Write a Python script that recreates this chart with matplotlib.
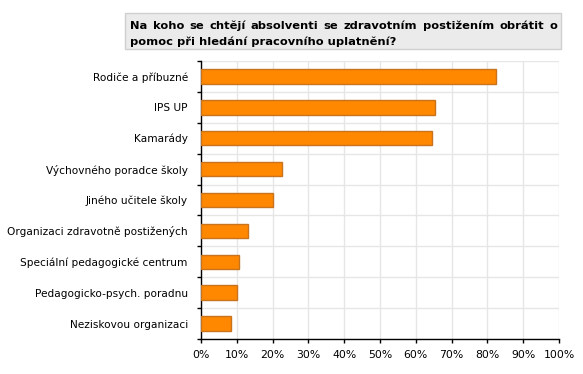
import matplotlib
matplotlib.use("Agg")
import matplotlib.pyplot as plt
from matplotlib.ticker import FixedLocator, FuncFormatter
from matplotlib.patches import Rectangle

categories = [
    "Rodiče a příbuzné",
    "IPS UP",
    "Kamarády",
    "Výchovného poradce školy",
    "Jiného učitele školy",
    "Organizaci zdravotně postižených",
    "Speciální pedagogické centrum",
    "Pedagogicko-psych. poradnu",
    "Neziskovou organizaci",
]
values = [82.4, 65.5, 64.6, 22.7, 20.2, 13.2, 10.7, 10.1, 8.5]
xticks = [0, 10, 20, 30, 40, 50, 60, 70, 80, 90, 100]
title_line1 = "Na koho se chtějí absolventi se zdravotním postižením obrátit o"
title_line2 = "pomoc při hledání pracovního uplatnění?"

W, H = 583, 374
fig = plt.figure(figsize=(W / 100, H / 100), dpi=100)
ax = fig.add_axes([201 / W, 1 - 339 / H, (559 - 201) / W, (339 - 61) / H])

ypos = list(range(len(categories)))
ax.barh(ypos, values, height=0.47, color="#ff8800", edgecolor="#c8731e",
        linewidth=1.0, zorder=3)

ax.set_xlim(0, 100)
ax.set_ylim(len(categories) - 0.5, -0.5)
ax.set_xticks(xticks)
ax.xaxis.set_major_formatter(FuncFormatter(lambda v, p: f"{int(v)}%"))
ax.set_yticks(ypos)
ax.set_yticklabels(categories)
ax.yaxis.set_minor_locator(FixedLocator([k - 0.5 for k in range(len(categories) + 1)]))

ax.tick_params(axis="y", which="major", length=0, pad=9.5, labelsize=7.6, colors="#000000")
ax.tick_params(axis="y", which="minor", length=3, width=1, color="black")
ax.tick_params(axis="x", which="major", length=3, width=1, pad=5, labelsize=7.8)

ax.grid(axis="x", which="major", color="#e6e6e6", linewidth=1, zorder=0)
ax.grid(axis="y", which="minor", color="#e6e6e6", linewidth=1, zorder=0)
ax.set_axisbelow(True)

for s in ["top", "right"]:
    ax.spines[s].set_visible(False)
for s in ["left", "bottom"]:
    ax.spines[s].set_color("black")
    ax.spines[s].set_linewidth(1)

# Title box
box = Rectangle((125 / W, 1 - 49 / H), (561 - 125) / W, (49 - 13) / H,
                transform=fig.transFigure, facecolor="#ebebeb",
                edgecolor="#cfcfcf", linewidth=1)
fig.add_artist(box)

renderer = fig.canvas.get_renderer()
x0, x1 = 130 / W, 557 / W

def text_width(s, fs):
    t = fig.text(0, 0, s, fontsize=fs, fontweight="bold")
    bb = t.get_window_extent(renderer=renderer)
    t.remove()
    return bb.width / W

# size the second line to its width in the reference (130 -> 393 px)
fs_title = 8.0
w2 = text_width(title_line2, fs_title)
fs_title = fs_title * ((393 - 130) / W) / w2

words = title_line1.split(" ")
widths = [text_width(w, fs_title) for w in words]
gap = ((x1 - x0) - sum(widths)) / (len(words) - 1)
x = x0
y1 = 1 - 28.8 / H
for w, wd in zip(words, widths):
    fig.text(x, y1, w, fontsize=fs_title, fontweight="bold", va="baseline", ha="left")
    x += wd + gap
fig.text(x0, 1 - 45.3 / H, title_line2, fontsize=fs_title, fontweight="bold",
         va="baseline", ha="left")

fig.savefig("out.png", dpi=100)
